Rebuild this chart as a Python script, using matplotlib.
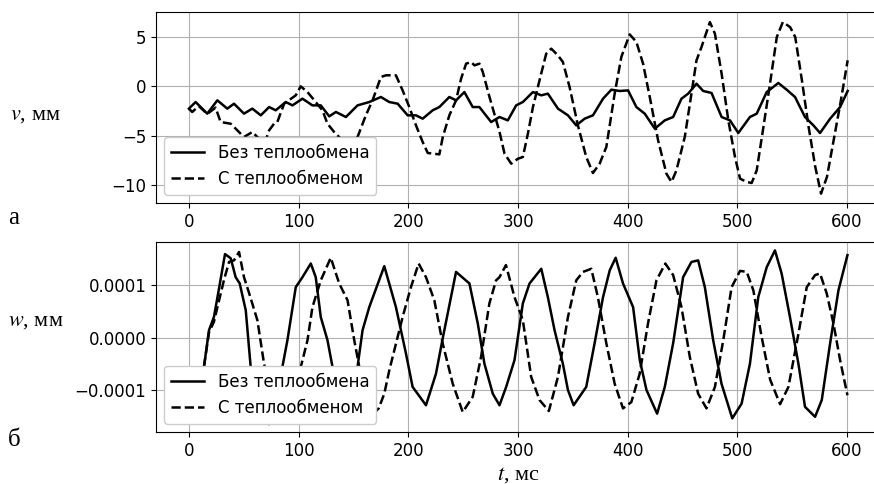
import matplotlib
matplotlib.use("Agg")
import matplotlib.pyplot as plt
from matplotlib.ticker import MultipleLocator
import numpy as np

# Top panel: v, mm (solid - no heat exchange, dashed - with heat exchange)
t_v_solid = [0, 6.1, 16.7, 25.9, 35.0, 41.1, 50.2, 57.8, 65.5, 73.1, 79.1, 88.3, 94.4,
             103.5, 112.6, 120.2, 127.9, 134.0, 143.1, 153.7, 164.4, 175.0, 182.6, 190.3,
             199.4, 207.0, 213.1, 222.2, 228.3, 237.4, 243.5, 251.1, 258.7, 264.8, 275.5,
             283.1, 290.7, 298.3, 304.4, 313.6, 321.2, 327.2, 336.4, 345.5, 353.1, 360.7,
             368.3, 377.5, 385.1, 392.7, 400.3, 407.9, 415.5, 424.7, 433.8, 441.4, 449.0,
             455.1, 462.7, 468.8, 476.4, 485.6, 493.2, 500.8, 511.4, 517.6, 526.7, 537.3,
             544.9, 552.5, 561.6, 569.3, 575.3, 584.5, 593.6, 600.5]
v_solid = [-2.26, -1.59, -2.77, -1.42, -2.26, -1.76, -2.77, -2.26, -2.94, -2.10, -2.43, -1.59,
           -1.93, -1.25, -1.93, -1.93, -3.04, -2.60, -3.11, -1.93, -1.59, -1.08, -1.59, -1.76,
           -2.94, -2.94, -3.28, -2.43, -2.10, -1.08, -1.42, -0.58, -2.10, -2.10, -3.62,
           -3.11, -3.45, -1.93, -1.59, -0.58, -0.91, -0.74, -2.26, -2.94, -3.96, -3.28,
           -2.94, -1.25, -0.34, -0.47, -0.41, -2.10, -2.77, -4.29, -3.45, -3.11, -1.25,
           -0.74, 0.27, -0.47, -0.67, -3.11, -3.45, -4.73, -3.11, -2.77, -0.58, 0.34,
           -0.34, -1.08, -3.11, -3.96, -4.73, -3.28, -2.10, -0.47]

t_v_dashed = [0, 3.0, 9.0, 16.7, 24.3, 28.9, 38.1, 42.6, 50.2, 57.8, 63.9, 69.0, 73.1, 77.6,
              80.6, 86.8, 97.4, 101.9, 108.0, 115.6, 121.7, 126.3, 132.4, 138.4, 145.0,
              153.7, 161.3, 167.4, 175.0, 179.6, 188.7, 194.8, 200.9, 207.0, 213.1, 217.7,
              228.3, 231.4, 237.4, 243.5, 248.1, 252.7, 257.2, 260.3, 264.8, 267.9, 274.0,
              283.1, 287.7, 293.8, 299.9, 304.4, 309.0, 313.6, 319.6, 325.7, 330.3, 336.4,
              340.9, 347.0, 354.6, 362.2, 368.3, 374.4, 380.5, 388.1, 394.2, 401.8, 407.9,
              414.0, 420.1, 427.7, 435.3, 439.9, 444.4, 452.0, 458.1, 462.7, 467.3, 474.9,
              479.5, 485.6, 491.7, 497.8, 502.4, 508.5, 513.0, 517.6, 523.7, 529.8, 535.9,
              541.4, 548.1, 552.7, 558.8, 564.9, 571.0, 576.2, 581.6, 587.7, 593.8, 600.5]
v_dashed = [-2.26, -2.6, -2.0, -2.8, -2.16, -3.62, -3.79, -4.29, -5.14, -4.63, -5.31, -5.8,
            -4.46, -3.79, -3.62, -1.76, -0.91, 0.0, -0.57, -1.59, -2.43, -3.79, -4.63, -5.31,
            -6.0, -5.14, -2.94, -1.42, 0.95, 1.12, 1.12, -0.41, -2.10, -3.96, -5.65, -6.76,
            -6.90, -5.14, -2.94, -1.42, 0.78, 2.30, 2.47, 2.13, 2.30, 1.45, -1.08,
            -4.6, -6.83, -7.84, -7.34, -7.17, -4.80, -2.10, 0.61, 3.31, 3.82, 3.14,
            2.47, -0.07, -3.96, -7.17, -8.79, -7.84, -6.15, -0.74, 2.99, 5.27, 4.50,
            2.30, -1.08, -5.48, -8.86, -9.70, -8.52, -5.14, -0.74, 2.64, 4.0, 6.52,
            5.34, 1.28, -3.45, -7.17, -9.36, -9.70, -9.80, -8.52, -4.12, 0.34, 5.0,
            6.52, 6.0, 5.0, 0.61, -4.12, -8.18, -10.88, -9.19, -5.48, -1.76, 2.64]

# Bottom panel: w, mm (in units of 1e-4)
t_w_solid = [8, 13.7, 18.3, 22.8, 27.4, 32.9, 38.1, 42.6, 46.3, 51.8, 56.3, 64.0, 73.0, 80.0,
             85.2, 89.8, 97.4, 103.5, 111.1, 115.6, 120.2, 126.3, 130.9, 137.0, 142.0, 148.0,
             153.7, 158.3, 164.4, 178.1, 188.7, 197.8, 203.9, 216.1, 225.2, 231.4, 243.5,
             255.7, 263.3, 269.4, 277.0, 283.1, 289.2, 296.8, 304.4, 310.5, 321.2, 327.2,
             333.3, 340.9, 345.5, 350.7, 362.2, 369.8, 377.5, 383.6, 389.0, 395.7, 404.9,
             411.0, 417.1, 426.8, 433.8, 441.4, 450.5, 458.1, 464.2, 470.3, 477.9, 485.5,
             495.3, 503.8, 511.4, 519.0, 526.7, 534.2, 540.3, 547.9, 555.6, 561.6, 570.8,
             576.9, 584.5, 592.1, 600.3]
w_solid = [-1.3, -0.56, 0.14, 0.39, 0.93, 1.59, 1.51, 1.15, 1.03, 0.52, -0.56, -1.4, -1.65, -1.2,
           -0.56, -0.05, 0.96, 1.15, 1.41, 1.15, 0.39, -0.05, -0.56, -1.3, -1.4, -1.2,
           -0.56, 0.14, 0.58, 1.36, 0.58, -0.30, -0.94, -1.29, -0.69, -0.01, 1.25,
           1.03, 0.27, -0.50, -1.07, -1.29, -0.94, -0.43, 0.65, 1.03, 1.31, 0.77,
           0.14, -0.50, -1.0, -1.29, -0.94, -0.11, 0.77, 1.28, 1.52, 1.03, 0.58,
           -0.43, -1.0, -1.45, -0.94, -0.11, 1.15, 1.44, 1.47, 0.96, -0.05, -0.88,
           -1.54, -1.26, -0.50, 0.77, 1.34, 1.66, 1.22, 0.39, -0.50, -1.32, -1.51,
           -1.19, -0.11, 0.90, 1.57]

t_w_dashed = [8, 13.7, 18.3, 22.8, 27.4, 32.0, 36.6, 41.1, 45.7, 50.2, 54.8, 62.4, 68.5, 76.0,
              85.0, 94.0, 102.0, 108.1, 112.6, 120.2, 129.3, 137.0, 144.6, 150.7, 155.3, 162.0,
              168.0, 173.0, 178.1, 182.6, 194.8, 202.4, 209.4, 216.1, 223.7, 231.4, 240.5,
              249.6, 258.7, 266.3, 273.9, 280.0, 283.1, 289.0, 296.8, 304.4, 312.0, 319.6,
              328.1, 336.4, 345.5, 353.1, 359.2, 366.8, 372.8, 380.5, 388.1, 395.7, 403.3,
              410.9, 418.5, 426.2, 434.3, 441.4, 449.0, 456.6, 464.2, 471.8, 479.5, 487.1,
              494.7, 502.4, 508.5, 514.5, 522.1, 529.8, 538.9, 546.5, 555.6, 563.2, 570.8,
              575.3, 581.4, 587.5, 593.6, 600.3]
w_dashed = [-1.3, -0.56, 0.1, 0.3, 0.7, 1.1, 1.44, 1.47, 1.63, 1.15, 0.85, 0.33, -0.50, -1.2,
            -1.5, -1.2, -0.56, -0.05, 0.58, 1.09, 1.52, 1.03, 0.71, -0.05, -0.56, -1.2,
            -1.45, -1.35, -1.07, -0.63, 0.39, 0.96, 1.41, 1.15, 0.71, -0.12, -0.88,
            -1.42, -1.13, -0.37, 0.65, 1.09, 1.15, 1.38, 0.77, 0.33, -0.75, -1.19,
            -1.40, -0.75, 0.39, 1.09, 1.25, 1.31, 0.77, -0.11, -0.88, -1.35, -1.23,
            -0.69, 0.27, 1.09, 1.41, 1.19, 0.58, -0.37, -1.07, -1.35, -0.94, -0.05,
            0.96, 1.27, 1.25, 0.90, 0.01, -0.80, -1.27, -0.94, 0.07, 0.96, 1.19,
            1.22, 0.84, 0.27, -0.43, -1.10]

labels = ["Без теплообмена", "С теплообменом"]

plt.rcParams['font.family'] = 'DejaVu Sans'
plt.rcParams['font.size'] = 12
plt.rcParams['mathtext.fontset'] = 'stix'

fig = plt.figure(figsize=(8.74, 4.84), dpi=100)
ax1 = fig.add_axes([0.1785, 0.5806, 0.8284, 0.3946])
ax2 = fig.add_axes([0.1785, 0.1074, 0.8284, 0.3926])

# Top: v
ax1.plot(t_v_solid, v_solid, color='black', lw=1.8, ls='-', label=labels[0])
ax1.plot(t_v_dashed, v_dashed, color='black', lw=1.8, ls='--', label=labels[1])
ax1.set_xlim(-30, 630)
ax1.set_ylim(-11.83, 7.54)
ax1.yaxis.set_major_locator(MultipleLocator(5))

# Bottom: w
ax2.plot(t_w_solid, np.array(w_solid) * 1e-4, color='black', lw=1.8, ls='-', label=labels[0])
ax2.plot(t_w_dashed, np.array(w_dashed) * 1e-4, color='black', lw=1.8, ls='--', label=labels[1])
ax2.set_xlim(-30, 630)
ax2.set_ylim(-0.000180, 0.000182)
ax2.yaxis.set_major_locator(MultipleLocator(1e-4))

for ax in (ax1, ax2):
    ax.xaxis.set_major_locator(MultipleLocator(100))
    ax.grid(True)
    ax.spines['right'].set_visible(False)
    ax.legend(loc='lower left', framealpha=1)

serif = ['Liberation Serif', 'DejaVu Serif']
fig.text(0.0114, 0.762, r'$v$, мм', family=serif, fontsize=16, ha='left', va='center')
fig.text(0.0095, 0.335, r'$w$, мм', family=serif, fontsize=16, ha='left', va='center')
fig.text(0.0095, 0.549, 'а', family=serif, fontsize=18, ha='left', va='center')
fig.text(0.0095, 0.091, 'б', family=serif, fontsize=18, ha='left', va='center')
fig.text(0.593, 0.009, r'$t$, мс', family=serif, fontsize=16, ha='center', va='baseline')

fig.savefig('out.png', dpi=100)
